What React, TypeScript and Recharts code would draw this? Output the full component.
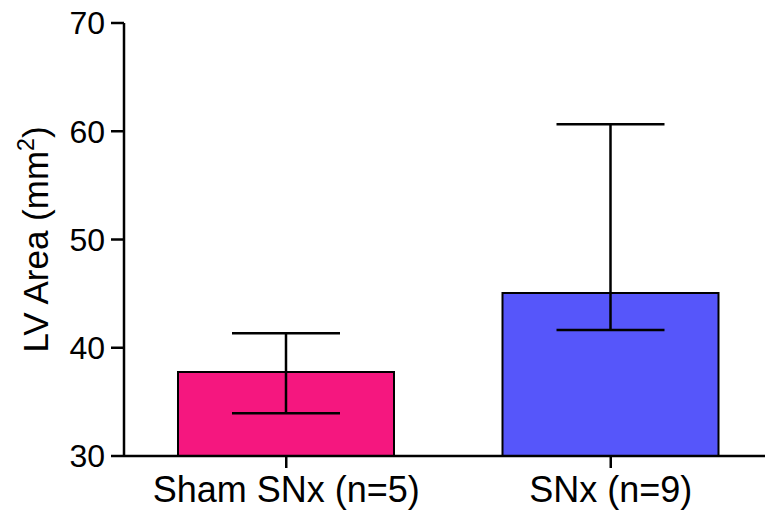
import React from "react";
import { Bar, BarChart, Cell, ErrorBar, Label, XAxis, YAxis } from "recharts";

const groups = ["Sham SNx (n=5)", "SNx (n=9)"];
const meanArea = [37.75, 45.05];
// [below, above] the mean
const errLow = [3.8, 3.4];
const errHigh = [3.6, 15.6];
const barColors = ["#F5177F", "#5656FA"];
const yTicks = [30, 40, 50, 60, 70];

const data = groups.map((g, i) => ({
  group: g,
  area: meanArea[i],
  err: [errLow[i], errHigh[i]],
}));

const font = "'Liberation Sans', Arial, Helvetica, sans-serif";

function YTitle(props: any) {
  const vb = props.viewBox || {};
  const cy = vb.y + vb.height / 2;
  const x = 48;
  return (
    <text
      x={x}
      y={cy}
      transform={`rotate(-90 ${x} ${cy})`}
      textAnchor="middle"
      fontFamily={font}
      fontSize={35}
      fill="#000"
    >
      <tspan>LV Area (mm</tspan>
      <tspan fontSize={23} dy={-14}>2</tspan>
      <tspan dy={14}>)</tspan>
    </text>
  );
}

export default function App() {
  return (
    <div
      style={{
        position: "absolute",
        left: 0,
        top: 0,
        width: 765,
        height: 513,
        overflow: "hidden",
        background: "#fff",
      }}
    >
      <BarChart
        width={780}
        height={513}
        data={data}
        margin={{ top: 23, right: 7, bottom: 0, left: 0 }}
      >
        <XAxis
          dataKey="group"
          height={57}
          tickSize={12}
          tickMargin={8}
          tick={{ fill: "#000", fontSize: 36, fontFamily: font }}
          axisLine={{ stroke: "#000", strokeWidth: 2.5 }}
          tickLine={{ stroke: "#000", strokeWidth: 2.5 }}
          interval={0}
        />
        <YAxis
          type="number"
          domain={[30, 70]}
          ticks={yTicks}
          width={124}
          tickSize={13}
          tickMargin={6}
          tick={{ fill: "#000", fontSize: 32, fontFamily: font }}
          axisLine={{ stroke: "#000", strokeWidth: 2.5 }}
          tickLine={{ stroke: "#000", strokeWidth: 2.5 }}
        >
          <Label content={<YTitle />} />
        </YAxis>
        <Bar
          dataKey="area"
          barSize={216}
          stroke="#000"
          strokeWidth={2}
          isAnimationActive={false}
        >
          {data.map((d, i) => (
            <Cell key={d.group} fill={barColors[i]} />
          ))}
          <ErrorBar
            dataKey="err"
            width={54}
            stroke="#000"
            strokeWidth={2.5}
            direction="y"
          />
        </Bar>
      </BarChart>
    </div>
  );
}
